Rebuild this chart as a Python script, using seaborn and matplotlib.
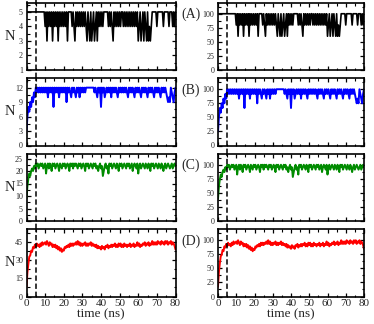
import numpy as np
import pandas as pd
import matplotlib
matplotlib.use("Agg")
import matplotlib.pyplot as plt
import seaborn as sns
from matplotlib.ticker import MultipleLocator

# ---------------- data (sampled every 0.5 ns, 0..80 ns) ----------------
time_ns = np.arange(161) * 0.5

n_A = [5] * 20 + [
    4, 5, 3, 5, 4, 5, 4, 5, 3, 5, 4, 5, 4, 5, 3, 5, 4, 5, 4, 5,
    4, 5, 4, 5, 3, 5, 5, 5, 5, 4, 5, 4, 3, 5, 4, 5, 4, 5, 4, 5,
    4, 5, 4, 5, 4, 3, 5, 4, 3, 5, 3, 4, 5, 3, 4, 5, 3, 5, 4, 5,
    4, 5, 4, 5, 5, 5, 5, 5, 4, 5, 4, 5, 4, 3, 5, 4, 5, 4, 5, 4,
    5, 4, 5, 5, 4, 5, 4, 5, 4, 5, 4, 5, 4, 5, 4, 5, 4, 5, 4, 5,
    3, 4, 5, 3, 4, 5, 3, 5, 4, 3, 5, 3, 4, 3, 4, 5, 5, 5, 5, 5,
    4, 5, 5, 5, 5, 5, 5, 4, 5, 5, 5, 5, 5, 4, 5, 5, 5, 4, 5, 4,
    5]

n_B = [
    3, 6, 8, 7, 9, 8, 10, 9, 11, 10,
    12, 11, 12, 11, 12, 11, 12, 11, 12, 11,
    12, 11, 12, 10, 12, 11, 12, 11, 12, 8,
    12, 11, 12, 11, 12, 10, 12, 11, 12, 11,
    12, 11, 12, 9, 12, 11, 12, 11, 10, 12,
    11, 12, 11, 10, 12, 11, 12, 10, 12, 11,
    12, 11, 12, 11, 12, 12, 12, 12, 12, 12,
    12, 12, 12, 11, 12, 11, 10, 12, 11, 12,
    8, 12, 11, 12, 10, 11, 12, 11, 12, 11,
    12, 10, 12, 11, 12, 11, 12, 11, 10, 12,
    11, 12, 11, 12, 11, 12, 11, 12, 11, 10,
    12, 11, 12, 11, 12, 11, 10, 12, 11, 12,
    11, 12, 11, 10, 12, 11, 12, 11, 12, 11,
    10, 12, 11, 12, 11, 12, 11, 10, 12, 11,
    12, 11, 12, 11, 10, 12, 11, 12, 11, 12,
    11, 10, 9, 10, 9, 12, 11, 10, 9, 11,
    12]

n_C = [
    9, 14, 17, 19, 18, 20, 21, 20, 22, 21,
    23, 22, 23, 21, 22, 23, 22, 23, 21, 22,
    23, 19, 22, 23, 21, 23, 22, 20, 23, 22,
    23, 21, 22, 23, 22, 20, 23, 22, 21, 23,
    22, 23, 21, 22, 23, 22, 20, 23, 22, 23,
    21, 23, 22, 23, 22, 21, 23, 22, 23, 21,
    22, 23, 22, 20, 23, 22, 23, 21, 22, 23,
    22, 21, 23, 22, 23, 21, 22, 20, 22, 23,
    21, 22, 18, 20, 22, 23, 21, 22, 19, 23,
    22, 23, 21, 22, 23, 22, 21, 23, 22, 20,
    23, 22, 23, 21, 22, 23, 22, 21, 23, 22,
    23, 21, 22, 23, 20, 22, 23, 22, 21, 23,
    19, 22, 23, 21, 22, 23, 22, 21, 23, 22,
    21, 23, 22, 20, 23, 22, 23, 21, 22, 23,
    22, 21, 23, 22, 21, 23, 22, 20, 22, 23,
    21, 22, 23, 22, 21, 22, 23, 21, 22, 23,
    22]

n_D = [
    8, 20, 27, 33, 34, 38, 37, 41, 40, 43,
    41, 44, 42, 43, 41, 44, 42, 45, 43, 44,
    45, 43, 46, 44, 42, 45, 43, 44, 41, 43,
    41, 43, 40, 42, 39, 41, 38, 40, 37, 39,
    38, 41, 40, 42, 41, 43, 41, 44, 42, 44,
    42, 44, 43, 45, 43, 46, 43, 45, 42, 44,
    42, 44, 43, 45, 42, 44, 42, 44, 43, 45,
    42, 44, 42, 43, 41, 43, 40, 42, 40, 41,
    39, 42, 40, 41, 39, 42, 41, 43, 40, 42,
    41, 43, 41, 43, 42, 44, 41, 43, 41, 44,
    42, 44, 41, 43, 41, 44, 42, 43, 41, 43,
    42, 44, 41, 43, 42, 44, 41, 43, 42, 45,
    42, 44, 41, 43, 42, 44, 43, 45, 42, 44,
    43, 45, 42, 44, 43, 46, 43, 45, 43, 45,
    43, 46, 44, 45, 43, 46, 44, 45, 43, 46,
    44, 46, 43, 45, 44, 46, 43, 45, 44, 42,
    39]

n_max = [5, 12, 23, 46]
panel_labels = ["(A)", "(B)", "(C)", "(D)"]
colors = ["black", "#0000ff", "#008b00", "#ff0000"]
left_ylims = [(1, 5.65), (0, 14), (0, 27), (0, 56)]
left_major = [1, 3, 5, 15]
right_ylim = (0, 120)
right_ticks = [0, 25, 50, 75, 100]
equil_time = 5
series = [n_A, n_B, n_C, n_D]

# ---------------- style ----------------
sns.set_style("ticks")
plt.rcParams["font.family"] = ["Liberation Serif", "DejaVu Serif"]
plt.rcParams["axes.linewidth"] = 1.2

W, H = 374, 324
fig = plt.figure(figsize=(W / 100, H / 100), dpi=100)


def add_px(left, top, w, h):
    return fig.add_axes([left / W, 1 - (top + h) / H, w / W, h / H])


row_tops = [2.5, 78, 153.5, 229]
row_h = 67.5
gap = 8.0


def style_axis(ax, bottom_row, minor_y):
    ax.set_xlim(0, 80)
    ax.xaxis.set_major_locator(MultipleLocator(10))
    ax.xaxis.set_minor_locator(MultipleLocator(5))
    ax.yaxis.set_minor_locator(MultipleLocator(minor_y))
    ax.tick_params(which="both", direction="in", top=True, right=True,
                   color="black")
    ax.tick_params(which="major", length=3.2, width=0.9)
    ax.tick_params(which="minor", length=1.8, width=0.8)
    ax.tick_params(axis="y", labelsize=5.8, pad=2.5)
    ax.tick_params(axis="x", labelsize=8, pad=1.5)
    ax.tick_params(axis="x", labelbottom=bottom_row)
    for s in ax.spines.values():
        s.set_color("black")
        s.set_linewidth(1.2)
    ax.set_xlabel("time (ns)" if bottom_row else "", fontsize=9.5,
                  labelpad=0.5)


for i in range(4):
    top = row_tops[i]
    bottom_row = i == 3
    vals = np.array(series[i], dtype=float)
    pct = vals / n_max[i] * 100
    lw = 1.2 if i == 0 else 1.4

    axL = add_px(26.5, top, 149, row_h)
    sns.lineplot(x=time_ns, y=vals, ax=axL, color=colors[i], lw=lw,
                 estimator=None)
    axL.set_ylim(*left_ylims[i])
    axL.yaxis.set_major_locator(MultipleLocator(left_major[i]))
    style_axis(axL, bottom_row, left_major[i] / 2)
    axL.set_ylabel("N", rotation=0, fontsize=10.5, va="center", ha="center")
    axL.yaxis.set_label_coords(-0.11, 0.5)

    axR = add_px(218, top, 146, row_h)
    sns.lineplot(x=time_ns, y=pct, ax=axR, color=colors[i], lw=lw,
                 estimator=None)
    axR.set_ylim(*right_ylim)
    axR.set_yticks(right_ticks)
    style_axis(axR, bottom_row, 12.5)
    axR.set_ylabel("")

    ymin = 0 if bottom_row else -gap / row_h
    ymax = 1 + top / row_h if i == 0 else 1
    for ax in (axL, axR):
        ax.axvline(equil_time, ymin=ymin, ymax=ymax, color="black", lw=1.1,
                   ls=(0, (3.5, 1.8)), clip_on=False, zorder=5)

    fig.text(181 / W, 1 - (top + 12) / H, panel_labels[i], fontsize=10,
             ha="left", va="center")

fig.savefig("out.png", dpi=100)
